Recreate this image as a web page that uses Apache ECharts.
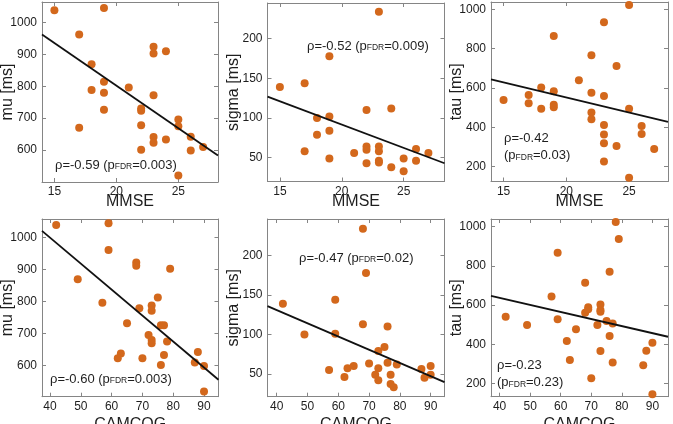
<!DOCTYPE html>
<html>
<head>
<meta charset="utf-8">
<script src="https://cdn.jsdelivr.net/npm/echarts@6/dist/echarts.min.js"></script>
<style>
  html, body { margin: 0; padding: 0; background: #fff; }
  #chart { width: 673px; height: 424px; }
</style>
</head>
<body>
<div id="chart"></div>
<script>
// tick labels
const mmseTicks = [15, 20, 25];
const camcogTicks = [40, 50, 60, 70, 80, 90];
const muTicks = [600, 700, 800, 900, 1000];
const sigmaTicks = [50, 100, 150, 200];
const tauTicks = [200, 400, 600, 800, 1000];

// top row: MMSE vs mu / sigma / tau  ([score, ms])
const mmseMu = [
  [15, 1038], [19, 1045], [17, 962], [18, 869], [19, 814], [18, 788], [19, 780],
  [19, 726], [17, 670], [21, 796], [23, 924], [23, 903], [24, 910], [23, 772],
  [22, 730], [22, 723], [22, 678], [22, 601], [23, 641], [23, 623], [24, 633],
  [25, 696], [25, 675], [26, 642], [26, 599], [27, 610], [25, 520]
];
const mmseSigma = [
  [15, 139], [17, 144], [19, 178], [18, 100], [19, 102], [18, 79], [19, 84],
  [17, 58], [19, 49], [21, 56], [22, 110], [24, 112], [23, 234], [22, 64],
  [22, 60], [22, 43], [23, 64], [23, 58], [23, 46], [23, 44], [24, 38],
  [25, 49], [25, 33], [26, 61], [26, 46], [27, 56]
];
const mmseTau = [
  [15, 539], [17, 565], [17, 522], [18, 602], [18, 495], [19, 864], [19, 583],
  [19, 515], [19, 502], [21, 639], [22, 766], [22, 576], [22, 475], [22, 441],
  [23, 934], [23, 559], [23, 412], [23, 364], [23, 319], [23, 227], [24, 712],
  [24, 305], [25, 1022], [25, 495], [25, 144], [26, 407], [26, 366], [27, 290]
];

// bottom row: CAMCOG vs mu / sigma / tau
const camcogMu = [
  [42, 1038], [59, 1044], [59, 960], [49, 869], [57, 796], [65, 732], [68, 921],
  [68, 911], [79, 902], [69, 779], [73, 787], [73, 771], [75, 812], [76, 726],
  [77, 726], [72, 695], [73, 680], [73, 670], [78, 675], [77, 633], [63, 638],
  [62, 623], [70, 623], [76, 602], [87, 610], [88, 642], [90, 599], [90, 519]
];
const camcogSigma = [
  [42, 139], [49, 100], [57, 55], [59, 144], [59, 101], [62, 46], [63, 57],
  [65, 60], [68, 234], [69, 178], [68, 113], [70, 63], [72, 49], [73, 57],
  [73, 42], [73, 79], [75, 84], [76, 110], [76, 64], [77, 49], [77, 37],
  [78, 33], [79, 62], [87, 56], [88, 45], [90, 60], [90, 49]
];
const camcogTau = [
  [42, 540], [49, 498], [57, 643], [59, 867], [59, 527], [62, 416], [63, 319],
  [65, 476], [68, 714], [68, 561], [69, 588], [69, 578], [70, 226], [72, 498],
  [73, 603], [73, 574], [73, 565], [73, 365], [75, 518], [76, 770], [76, 442],
  [77, 506], [77, 306], [78, 1024], [79, 937], [87, 292], [88, 367], [90, 408],
  [90, 144]
];

// regression line end points
const mmseMuFit = [[14, 962], [28.2, 583]];
const mmseSigmaFit = [[14, 127], [28.3, 43]];
const mmseTauFit = [[14, 644], [28.1, 428]];
const camcogMuFit = [[37.4, 1020], [94.7, 556]];
const camcogSigmaFit = [[37, 136], [94.5, 39.5]];
const camcogTauFit = [[37.2, 646], [95.1, 438]];

const FONT = "'Liberation Sans', Arial, sans-serif";
const DOT = "#d3681c";
const FRAME = "#858585";
const INK = "#1e1e1e";

const panels = [
  { box: { left: 42, top: 2, width: 176, height: 180 }, x: [14, 28.2], y: [500, 1064],
    xTicks: mmseTicks, yTicks: muTicks, xName: "MMSE", yName: "mu [ms]", nameGap: 12,
    pts: mmseMu, fit: mmseMuFit },
  { box: { left: 267.5, top: 3, width: 177, height: 178.5 }, x: [14, 28.3], y: [20, 245],
    xTicks: mmseTicks, yTicks: sigmaTicks, xName: "MMSE", yName: "sigma [ms]", nameGap: 12,
    pts: mmseSigma, fit: mmseSigmaFit },
  { box: { left: 491, top: 2, width: 177, height: 179.5 }, x: [14, 28.1], y: [125, 1037],
    xTicks: mmseTicks, yTicks: tauTicks, xName: "MMSE", yName: "tau [ms]", nameGap: 12,
    pts: mmseTau, fit: mmseTauFit },
  { box: { left: 42, top: 219, width: 176.5, height: 177.7 }, x: [37.4, 94.7], y: [503, 1057],
    xTicks: camcogTicks, yTicks: muTicks, xName: "CAMCOG", yName: "mu [ms]", nameGap: 20,
    pts: camcogMu, fit: camcogMuFit },
  { box: { left: 267.5, top: 219, width: 177, height: 177.7 }, x: [37, 94.5], y: [21, 246.5],
    xTicks: camcogTicks, yTicks: sigmaTicks, xName: "CAMCOG", yName: "sigma [ms]", nameGap: 20,
    pts: camcogSigma, fit: camcogSigmaFit },
  { box: { left: 491, top: 219, width: 177, height: 177.7 }, x: [37.2, 95.1], y: [132, 1039],
    xTicks: camcogTicks, yTicks: tauTicks, xName: "CAMCOG", yName: "tau [ms]", nameGap: 20,
    pts: camcogTau, fit: camcogTauFit }
];

// correlation notes: [text lines, left, middle y]
const notes = [
  [["{t|ρ=-0.59 (p}{s|FDR}{t|=0.003)}"], 55, 163],
  [["{t|ρ=-0.52 (p}{s|FDR}{t|=0.009)}"], 307, 44],
  [["{t|ρ=-0.42}", "{t|(p}{s|FDR}{t|=0.03)}"], 504, 145],
  [["{t|ρ=-0.60 (p}{s|FDR}{t|=0.003)}"], 50, 377],
  [["{t|ρ=-0.47 (p}{s|FDR}{t|=0.02)}"], 299, 256],
  [["{t|ρ=-0.23}", "{t|(p}{s|FDR}{t|=0.23)}"], 497, 372]
];

const grid = [], xAxis = [], yAxis = [], series = [];
const axisLine = { show: true, lineStyle: { color: FRAME, width: 1 } };
const tick = (vals) => ({ show: true, inside: true, length: 4, customValues: vals,
  lineStyle: { color: FRAME, width: 1 } });
const plain = (v) => String(v);

panels.forEach((p, i) => {
  // v6 would otherwise shrink the grid to keep the names inside the canvas
  grid.push(Object.assign({ outerBoundsMode: "none" }, p.box));
  // bottom / left axes carry labels, top / right ones only mirror the ticks
  xAxis.push({
    type: "value", gridIndex: i, min: p.x[0], max: p.x[1], position: "bottom",
    axisLine, axisTick: tick(p.xTicks), splitLine: { show: false },
    axisLabel: { customValues: p.xTicks, formatter: plain, margin: 4, fontSize: 12,
      color: INK, fontFamily: FONT },
    name: p.xName, nameLocation: "middle", nameGap: p.nameGap, nameMoveOverlap: false,
    nameTextStyle: { fontSize: 16, color: INK, fontFamily: FONT, verticalAlign: "top" }
  });
  xAxis.push({
    type: "value", gridIndex: i, min: p.x[0], max: p.x[1], position: "top",
    axisLine, axisTick: tick(p.xTicks), axisLabel: { show: false }, splitLine: { show: false }
  });
  yAxis.push({
    type: "value", gridIndex: i, min: p.y[0], max: p.y[1], position: "left",
    axisLine, axisTick: tick(p.yTicks), splitLine: { show: false },
    axisLabel: { customValues: p.yTicks, formatter: plain, margin: 5, fontSize: 12,
      color: INK, fontFamily: FONT },
    name: p.yName, nameLocation: "middle", nameGap: 26, nameMoveOverlap: false,
    nameTextStyle: { fontSize: 16, color: INK, fontFamily: FONT }
  });
  yAxis.push({
    type: "value", gridIndex: i, min: p.y[0], max: p.y[1], position: "right",
    axisLine, axisTick: tick(p.yTicks), axisLabel: { show: false }, splitLine: { show: false }
  });
  series.push({
    type: "scatter", xAxisIndex: 2 * i, yAxisIndex: 2 * i, data: p.pts,
    symbolSize: 8, itemStyle: { color: DOT, opacity: 1 }, z: 2
  });
  series.push({
    type: "line", xAxisIndex: 2 * i, yAxisIndex: 2 * i, data: p.fit,
    showSymbol: false, symbol: "none", lineStyle: { color: "#111", width: 1.8 }, z: 3
  });
});

const graphic = notes.map(([lines, x, y]) => ({
  type: "text", x, y, z: 10,
  style: {
    text: lines.join("\n"),
    verticalAlign: "middle",
    align: "left",
    rich: {
      t: { fontSize: 13, fontFamily: FONT, fill: INK, lineHeight: 17, verticalAlign: "bottom" },
      s: { fontSize: 8.5, fontFamily: FONT, fill: INK, lineHeight: 12, verticalAlign: "bottom" }
    }
  }
}));

const chart = echarts.init(document.getElementById("chart"), null, { renderer: "canvas" });
chart.setOption({
  animation: false,
  backgroundColor: "#fff",
  grid, xAxis, yAxis, series, graphic
});
</script>
</body>
</html>
